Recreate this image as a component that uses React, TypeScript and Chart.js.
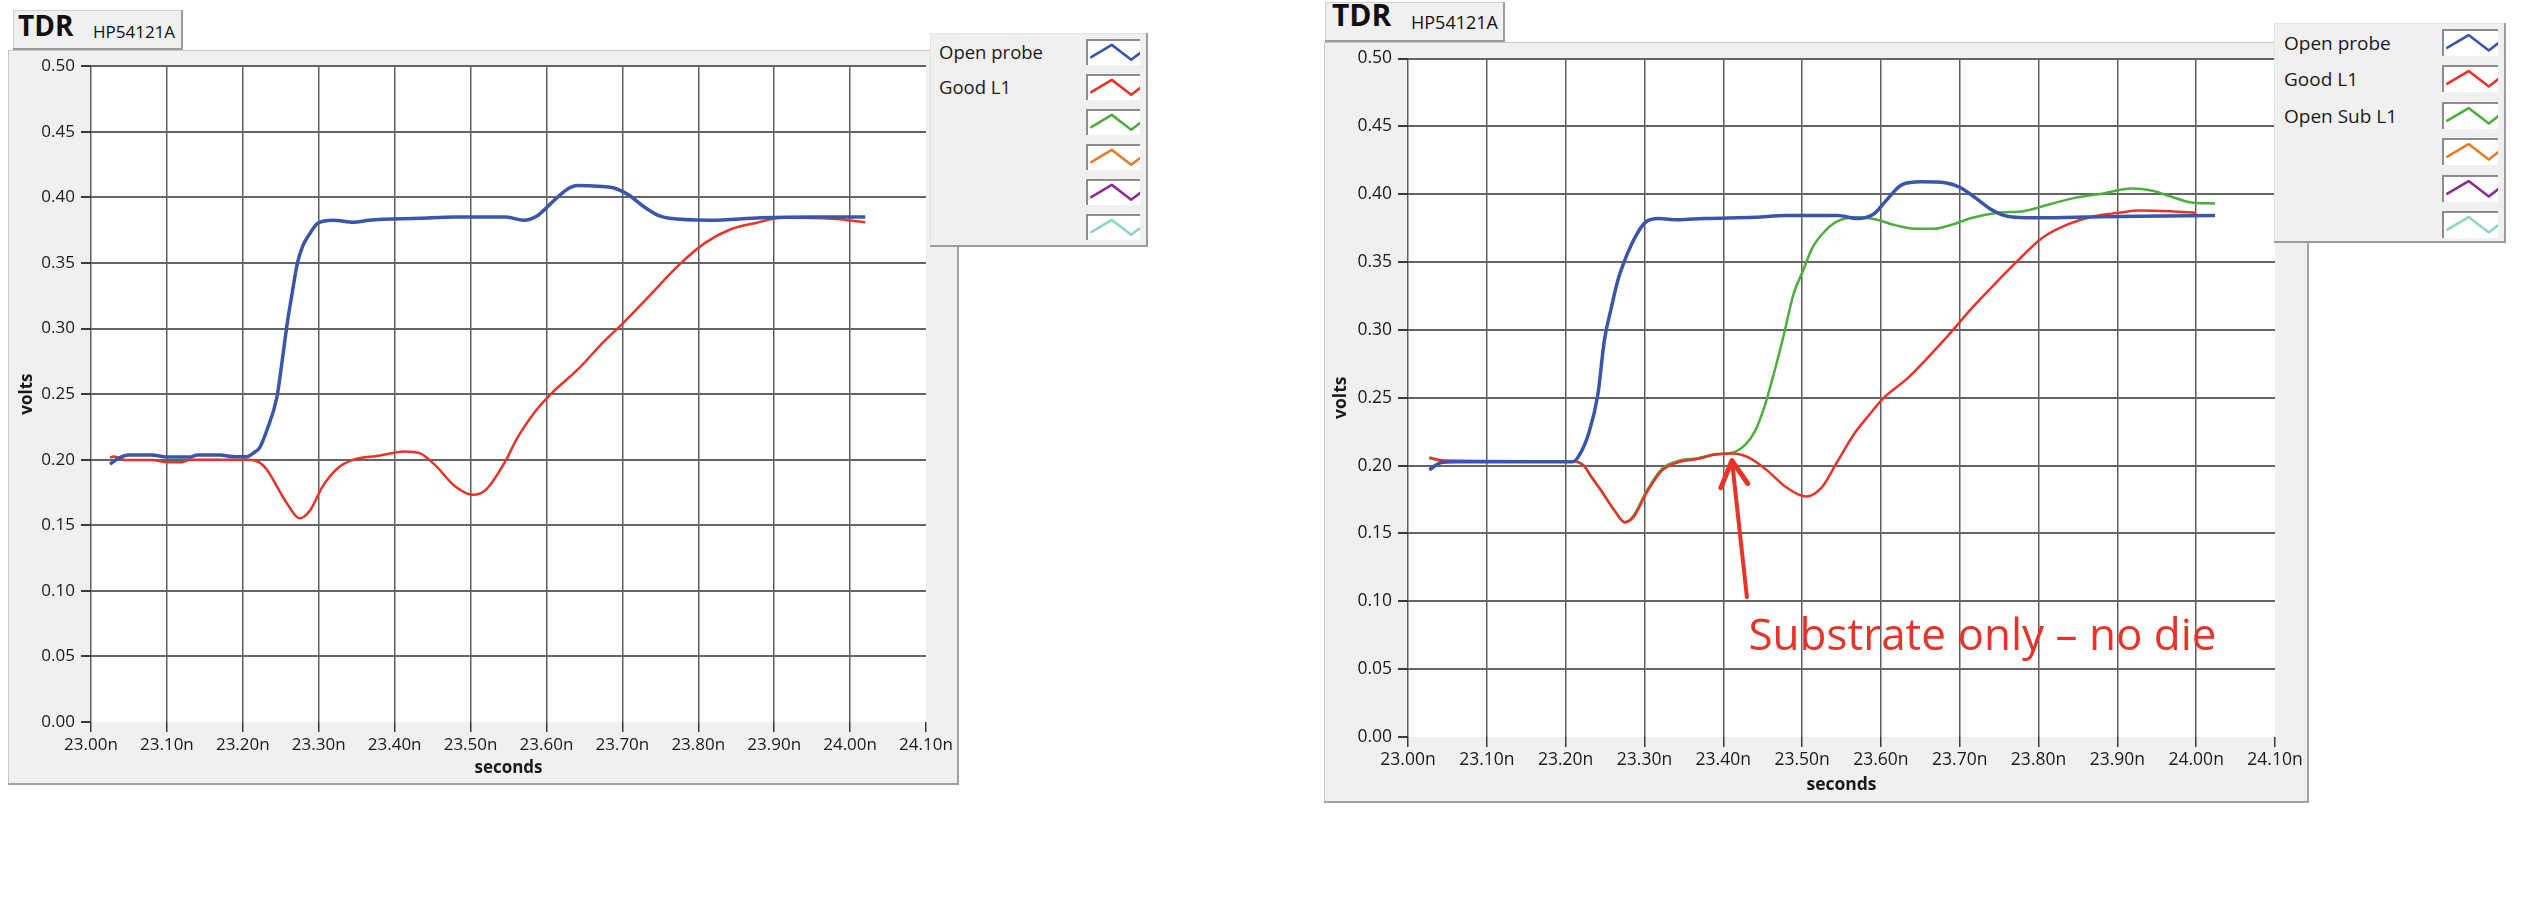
import React, { useEffect, useRef } from 'react';
import { Chart, registerables } from 'chart.js';

Chart.register(...registerables);

// ---------------- data ----------------
const xTickValues = [23.0, 23.1, 23.2, 23.3, 23.4, 23.5, 23.6, 23.7, 23.8, 23.9, 24.0, 24.1];
const xTickLabels = ['23.00n', '23.10n', '23.20n', '23.30n', '23.40n', '23.50n', '23.60n', '23.70n', '23.80n', '23.90n', '24.00n', '24.10n'];
const yTickValues = [0, 0.05, 0.1, 0.15, 0.2, 0.25, 0.3, 0.35, 0.4, 0.45, 0.5];
const yTickLabels = ['0.00', '0.05', '0.10', '0.15', '0.20', '0.25', '0.30', '0.35', '0.40', '0.45', '0.50'];

const legendNamesLeft = ['Open probe', 'Good L1', '', '', '', ''];
const legendNamesRight = ['Open probe', 'Good L1', 'Open Sub L1', '', '', ''];
const plotColors = ['#3a56ac', '#ea3228', '#4caf3c', '#e87c2a', '#8e2c96', '#8fd8c0'];

// Left chart: Open probe
const leftOpenProbeT = [23.025, 23.036, 23.05, 23.08, 23.1, 23.13, 23.14, 23.17, 23.19, 23.205, 23.215, 23.222, 23.232, 23.245, 23.252, 23.258, 23.265, 23.272, 23.279, 23.289, 23.299, 23.319, 23.346, 23.366, 23.433, 23.48, 23.547, 23.57, 23.587, 23.607, 23.627, 23.641, 23.668, 23.688, 23.708, 23.728, 23.748, 23.762, 23.815, 23.883, 23.95, 24.02];
const leftOpenProbeV = [0.1966, 0.201, 0.2035, 0.2035, 0.202, 0.202, 0.2035, 0.2035, 0.2022, 0.2022, 0.2055, 0.209, 0.223, 0.248, 0.276, 0.302, 0.327, 0.35, 0.363, 0.373, 0.3805, 0.3826, 0.381, 0.3826, 0.384, 0.385, 0.385, 0.3826, 0.3856, 0.396, 0.406, 0.409, 0.4085, 0.4073, 0.402, 0.393, 0.386, 0.384, 0.3826, 0.3844, 0.385, 0.385];

// Left chart: Good L1
const leftGoodL1T = [23.025, 23.03, 23.045, 23.08, 23.1, 23.12, 23.13, 23.205, 23.218, 23.232, 23.245, 23.258, 23.275, 23.289, 23.305, 23.325, 23.346, 23.379, 23.413, 23.433, 23.453, 23.48, 23.503, 23.52, 23.547, 23.56, 23.587, 23.607, 23.641, 23.674, 23.701, 23.735, 23.775, 23.809, 23.842, 23.876, 23.91, 23.977, 23.997, 24.02];
const leftGoodL1V = [0.2015, 0.2025, 0.1998, 0.1998, 0.198, 0.198, 0.2, 0.2, 0.199, 0.1922, 0.1795, 0.1668, 0.1553, 0.1617, 0.1795, 0.1935, 0.2, 0.203, 0.2063, 0.205, 0.196, 0.1795, 0.1732, 0.177, 0.2, 0.215, 0.238, 0.2508, 0.2686, 0.289, 0.3042, 0.3245, 0.3487, 0.3653, 0.3755, 0.3805, 0.3844, 0.3836, 0.3826, 0.381];

// Right chart: Open probe
const rightOpenProbeT = [23.027, 23.042, 23.06, 23.116, 23.209, 23.217, 23.229, 23.241, 23.249, 23.258, 23.266, 23.278, 23.29, 23.302, 23.318, 23.343, 23.375, 23.44, 23.48, 23.545, 23.57, 23.59, 23.606, 23.627, 23.651, 23.683, 23.7, 23.72, 23.74, 23.76, 23.797, 23.846, 23.927, 24.024];
const rightOpenProbeV = [0.197, 0.2022, 0.2029, 0.2029, 0.2029, 0.2074, 0.2233, 0.2527, 0.2919, 0.3164, 0.336, 0.3556, 0.3703, 0.3797, 0.3821, 0.3811, 0.3821, 0.383, 0.3843, 0.3843, 0.3821, 0.385, 0.3949, 0.4071, 0.4091, 0.4083, 0.4051, 0.3973, 0.3887, 0.3838, 0.3826, 0.383, 0.3838, 0.3843];

// Right chart: Good L1
const rightGoodL1T = [23.027, 23.045, 23.116, 23.21, 23.223, 23.233, 23.245, 23.262, 23.275, 23.286, 23.302, 23.322, 23.343, 23.367, 23.391, 23.412, 23.432, 23.456, 23.48, 23.505, 23.525, 23.545, 23.566, 23.586, 23.602, 23.635, 23.683, 23.716, 23.748, 23.773, 23.805, 23.837, 23.87, 23.902, 23.927, 23.967, 24.0];
const rightGoodL1V = [0.2059, 0.2037, 0.2032, 0.2032, 0.2, 0.1914, 0.1816, 0.1669, 0.1583, 0.162, 0.1792, 0.1963, 0.2025, 0.2049, 0.2081, 0.209, 0.2061, 0.1963, 0.184, 0.1772, 0.184, 0.2032, 0.2233, 0.238, 0.249, 0.265, 0.2944, 0.3164, 0.336, 0.3507, 0.3679, 0.3777, 0.3838, 0.3863, 0.388, 0.3875, 0.3863];

// Right chart: Open Sub L1
const rightOpenSubL1T = [23.027, 23.045, 23.21, 23.223, 23.233, 23.245, 23.262, 23.275, 23.286, 23.302, 23.322, 23.343, 23.367, 23.391, 23.41, 23.428, 23.44, 23.452, 23.464, 23.477, 23.489, 23.501, 23.513, 23.529, 23.545, 23.57, 23.594, 23.618, 23.643, 23.667, 23.691, 23.716, 23.748, 23.781, 23.813, 23.846, 23.878, 23.919, 23.943, 23.967, 23.992, 24.024];
const rightOpenSubL1V = [0.2055, 0.2035, 0.203, 0.2, 0.1914, 0.1816, 0.1669, 0.1583, 0.163, 0.1805, 0.1975, 0.2035, 0.2055, 0.2085, 0.2093, 0.2154, 0.2252, 0.2429, 0.2674, 0.2968, 0.3262, 0.3434, 0.3605, 0.3728, 0.3801, 0.3831, 0.3814, 0.3772, 0.3745, 0.3745, 0.3777, 0.3826, 0.3863, 0.3875, 0.3924, 0.3973, 0.4002, 0.4042, 0.4027, 0.3985, 0.3941, 0.3931];

// Annotation (in data coordinates of the right chart)
const noteText = 'Substrate only \u2013 no die';
const noteT = 23.432;
const noteV = 0.064;
const arrowShaftT = [23.43, 23.411];
const arrowShaftV = [0.103, 0.2037];
const arrowHeadT = [23.397, 23.411, 23.431];
const arrowHeadV = [0.1838, 0.2037, 0.1868];

// ---------------- styling ----------------
const FONT = "'Open Sans', 'Noto Sans', sans-serif";
const TEXT = '#1a1a1a';
const PANEL_BG = '#f0f0f0';

type Geom = {
  left: number; top: number; width: number; height: number;
  padTop: number; padRight: number; yAxisWidth: number; xAxisHeight: number;
  fontSize: number; yTitlePad: number; xTitlePad: number; tickPad: number;
};

const leftGeom: Geom = { left: 8, top: 50, width: 951, height: 735, padTop: 16, padRight: 33, yAxisWidth: 83, xAxisHeight: 63, fontSize: 17, yTitlePad: 9, xTitlePad: 7, tickPad: 3 };
const rightGeom: Geom = { left: 1324, top: 42, width: 985, height: 761, padTop: 15, padRight: 34, yAxisWidth: 84, xAxisHeight: 66, fontSize: 17.5, yTitlePad: 7, xTitlePad: 7, tickPad: 3 };

type Series = { label: string; t: number[]; v: number[]; color: string; width: number };

const plotBgPlugin = {
  id: 'plotBg',
  beforeDraw(chart: any) {
    const { ctx, chartArea } = chart;
    if (!chartArea) return;
    ctx.save();
    ctx.fillStyle = '#ffffff';
    ctx.fillRect(chartArea.left, chartArea.top, chartArea.right - chartArea.left, chartArea.bottom - chartArea.top);
    ctx.restore();
  },
};

const notePlugin = {
  id: 'substrateNote',
  afterDatasetsDraw(chart: any) {
    const { ctx } = chart;
    const x = chart.scales.x;
    const y = chart.scales.y;
    ctx.save();
    ctx.strokeStyle = plotColors[1];
    ctx.fillStyle = plotColors[1];
    ctx.lineWidth = 4;
    ctx.lineCap = 'round';
    ctx.lineJoin = 'round';
    ctx.beginPath();
    ctx.moveTo(x.getPixelForValue(arrowShaftT[0]), y.getPixelForValue(arrowShaftV[0]));
    ctx.lineTo(x.getPixelForValue(arrowShaftT[1]), y.getPixelForValue(arrowShaftV[1]));
    ctx.stroke();
    ctx.lineWidth = 5;
    ctx.beginPath();
    arrowHeadT.forEach((t, i) => {
      const px = x.getPixelForValue(t);
      const py = y.getPixelForValue(arrowHeadV[i]);
      if (i === 0) ctx.moveTo(px, py); else ctx.lineTo(px, py);
    });
    ctx.stroke();
    ctx.font = `44px ${FONT}`;
    ctx.textBaseline = 'alphabetic';
    ctx.textAlign = 'left';
    ctx.fillText(noteText, x.getPixelForValue(noteT), y.getPixelForValue(noteV));
    ctx.restore();
  },
};

function ChartPanel({ geom, series, extraPlugins }: { geom: Geom; series: Series[]; extraPlugins: any[] }) {
  const ref = useRef<HTMLCanvasElement | null>(null);
  useEffect(() => {
    if (!ref.current) return;
    const tickFont = { family: FONT, size: geom.fontSize };
    const titleFont = { family: FONT, size: geom.fontSize, weight: 'bold' as const };
    const chart = new Chart(ref.current, {
      type: 'line',
      data: {
        datasets: series.map((s) => ({
          label: s.label,
          data: s.t.map((t, i) => ({ x: t, y: s.v[i] })),
          borderColor: s.color,
          backgroundColor: s.color,
          borderWidth: s.width,
          pointRadius: 0,
          fill: false,
          cubicInterpolationMode: 'monotone' as const,
        })),
      },
      options: {
        animation: false,
        responsive: true,
        maintainAspectRatio: false,
        layout: { padding: { left: 0, top: geom.padTop, right: geom.padRight, bottom: 0 } },
        plugins: { legend: { display: false }, tooltip: { enabled: false } },
        scales: {
          x: {
            type: 'linear',
            min: xTickValues[0],
            max: xTickValues[xTickValues.length - 1],
            afterBuildTicks: (axis: any) => { axis.ticks = xTickValues.map((value) => ({ value })); },
            afterFit: (axis: any) => { axis.height = geom.xAxisHeight; },
            border: { display: false },
            grid: {
              color: (ctx: any) => (ctx.index === xTickValues.length - 1 ? 'rgba(0,0,0,0)' : '#5e5e5e'),
              lineWidth: 1.5,
              tickColor: '#3a3a3a',
              tickLength: 10,
              tickWidth: 1.5,
            },
            ticks: {
              callback: (_v: any, i: number) => xTickLabels[i],
              font: tickFont,
              color: TEXT,
              padding: geom.tickPad,
              maxRotation: 0,
              minRotation: 0,
              autoSkip: false,
            },
            title: { display: true, text: 'seconds', font: titleFont, color: TEXT, padding: { top: 0, bottom: geom.xTitlePad } },
          },
          y: {
            type: 'linear',
            min: yTickValues[0],
            max: yTickValues[yTickValues.length - 1],
            afterBuildTicks: (axis: any) => { axis.ticks = yTickValues.map((value) => ({ value })); },
            afterFit: (axis: any) => { axis.width = geom.yAxisWidth; },
            border: { display: false },
            grid: {
              color: (ctx: any) => (ctx.index === 0 ? 'rgba(0,0,0,0)' : '#646464'),
              lineWidth: 2,
              tickColor: '#3a3a3a',
              tickLength: 10,
              tickWidth: 2,
            },
            ticks: {
              callback: (_v: any, i: number) => yTickLabels[i],
              font: tickFont,
              color: TEXT,
              padding: 6,
              autoSkip: false,
            },
            title: { display: true, text: 'volts', font: titleFont, color: TEXT, padding: { top: geom.yTitlePad, bottom: 0 } },
          },
        },
      } as any,
      plugins: [plotBgPlugin, ...extraPlugins],
    });
    return () => chart.destroy();
  }, []);
  return (
    <div
      style={{
        position: 'absolute',
        left: geom.left,
        top: geom.top,
        width: geom.width,
        height: geom.height,
        background: PANEL_BG,
        boxShadow: 'inset -2px -2px 0 #a2a2a2, inset 1px 1px 0 #c8c8c8',
      }}
    >
      <canvas ref={ref} />
    </div>
  );
}

function TitleBox({ left, top, width, height, big, small, bigX, smallX, baseline }: any) {
  return (
    <div
      style={{
        position: 'absolute', left, top, width, height, background: PANEL_BG,
        boxShadow: 'inset -2px -2px 0 #9c9c9c, inset 1px 1px 0 #d0d0d0',
        fontFamily: FONT, color: '#111',
      }}
    >
      <span style={{ position: 'absolute', left: bigX, top: baseline - big * 1.07, fontSize: big, fontWeight: 'bold', lineHeight: 1 }}>TDR</span>
      <span style={{ position: 'absolute', left: smallX, top: baseline - small * 1.07, fontSize: small, lineHeight: 1 }}>HP54121A</span>
    </div>
  );
}

function Legend({ left, top, width, height, names, textX, rowY0, rowStep, swX, swY0, swW, swH, fontSize }: any) {
  return (
    <div
      style={{
        position: 'absolute', left, top, width, height, background: PANEL_BG,
        boxShadow: 'inset -2px -2px 0 #9c9c9c, inset 1px 1px 0 #e4e4e4',
        fontFamily: FONT, fontSize, color: TEXT,
      }}
    >
      {names.map((n: string, i: number) => (
        <div key={'t' + i} style={{ position: 'absolute', left: textX, top: rowY0 + i * rowStep - fontSize * 0.7, lineHeight: `${fontSize * 1.4}px`, whiteSpace: 'nowrap' }}>{n}</div>
      ))}
      {plotColors.map((c, i) => (
        <div
          key={'s' + i}
          style={{
            position: 'absolute', left: swX, top: swY0 + i * rowStep, width: swW, height: swH,
            background: '#ffffff', boxSizing: 'border-box', borderTop: '2px solid #8c8c8c', borderLeft: '2px solid #8c8c8c',
          }}
        >
          <svg width={swW - 2} height={swH - 2} style={{ display: 'block' }}>
            <polyline
              points={`${0.06 * swW},${0.62 * swH} ${0.44 * swW},${0.15 * swH} ${0.8 * swW},${0.72 * swH} ${0.97 * swW},${0.45 * swH}`}
              fill="none" stroke={c} strokeWidth={2.6} strokeLinejoin="round" strokeLinecap="round"
            />
          </svg>
        </div>
      ))}
    </div>
  );
}

const leftSeries: Series[] = [
  { label: 'Open probe', t: leftOpenProbeT, v: leftOpenProbeV, color: plotColors[0], width: 3.5 },
  { label: 'Good L1', t: leftGoodL1T, v: leftGoodL1V, color: plotColors[1], width: 2.5 },
];
const rightSeries: Series[] = [
  { label: 'Open probe', t: rightOpenProbeT, v: rightOpenProbeV, color: plotColors[0], width: 3.5 },
  { label: 'Good L1', t: rightGoodL1T, v: rightGoodL1V, color: plotColors[1], width: 2.5 },
  { label: 'Open Sub L1', t: rightOpenSubL1T, v: rightOpenSubL1V, color: plotColors[2], width: 2.5 },
];

export default function App() {
  return (
    <div style={{ position: 'absolute', left: 0, top: 0, width: 2523, height: 918, background: '#ffffff', overflow: 'hidden' }}>
      <ChartPanel geom={leftGeom} series={leftSeries} extraPlugins={[]} />
      <TitleBox left={13} top={10} width={170} height={40} big={28} small={17} bigX={5} smallX={80} baseline={31} />
      <Legend left={930} top={33} width={218} height={214} names={legendNamesLeft} textX={9} rowY0={19} rowStep={35} swX={156} swY0={6} swW={54} swH={26} fontSize={18.5} />

      <ChartPanel geom={rightGeom} series={rightSeries} extraPlugins={[notePlugin]} />
      <TitleBox left={1325} top={2} width={180} height={40} big={30} small={18} bigX={7} smallX={86} baseline={30} />
      <Legend left={2274} top={23} width={232} height={220} names={legendNamesRight} textX={10} rowY0={20} rowStep={36.4} swX={168} swY0={6} swW={56} swH={27} fontSize={19} />
    </div>
  );
}
